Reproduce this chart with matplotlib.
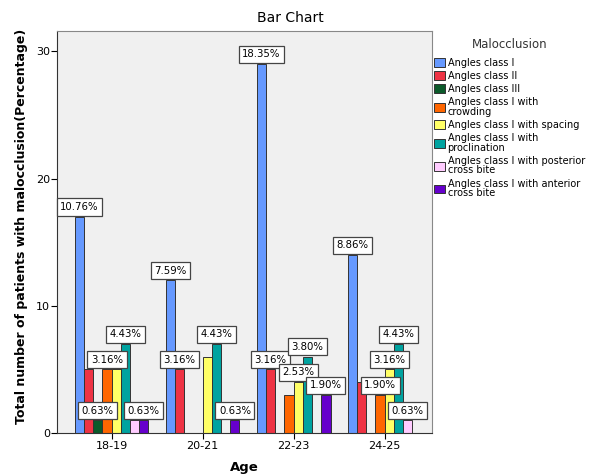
import numpy as np
import matplotlib; matplotlib.use('Agg')
import matplotlib.pyplot as plt
from matplotlib.patches import Patch

ages = ['18-19', '20-21', '22-23', '24-25']
series = [
    'Angles class I',
    'Angles class II',
    'Angles class III',
    'Angles class I with\ncrowding',
    'Angles class I with spacing',
    'Angles class I with\nproclination',
    'Angles class I with posterior\ncross bite',
    'Angles class I with anterior\ncross bite',
]
# counts per series, one value per age group
class_1 = [17, 12, 29, 14]
class_2 = [5, 5, 5, 4]
class_3 = [1, 0, 0, 0]
crowding = [5, 0, 3, 3]
spacing = [5, 6, 4, 5]
proclination = [7, 7, 6, 7]
posterior_cb = [1, 0, 0, 1]
anterior_cb = [1, 1, 3, 0]
total_patients = 158

# which (series, age) bars carry a percentage label
labelled = [
    (0, 0), (3, 0), (5, 0), (2, 0), (7, 0),
    (0, 1), (1, 1), (5, 1), (7, 1),
    (0, 2), (1, 2), (4, 2), (5, 2), (7, 2),
    (0, 3), (3, 3), (4, 3), (5, 3), (6, 3),
]

colors = ['#6699ff', '#ee3344', '#0b5a2a', '#ff6600', '#ffff66',
          '#00a3a0', '#ffccff', '#6600cc']

values = [class_1, class_2, class_3, crowding, spacing,
          proclination, posterior_cb, anterior_cb]

fig = plt.figure(figsize=(5.95, 4.76), dpi=100)
ax = fig.add_axes([57 / 595, 1 - 433 / 476, (432 - 57) / 595, (433 - 31) / 476])
ax.set_facecolor('#f0f0f0')

n = len(series)
group_w = 0.81
bar_w = group_w / n
x = np.arange(len(ages))

for i, vals in enumerate(values):
    xs = x - group_w / 2 + bar_w * (i + 0.5)
    vals = np.array(vals, float)
    keep = vals > 0
    ax.bar(xs[keep], vals[keep], width=bar_w, color=colors[i],
           edgecolor='#333333', linewidth=0.7, zorder=2)

for i, j in labelled:
    xc = j - group_w / 2 + bar_w * (i + 0.5)
    v = values[i][j]
    ax.annotate(f'{v / total_patients * 100:.2f}%', (xc, v),
                xytext=(0, 7), textcoords='offset points',
                ha='center', va='center', fontsize=7.3, zorder=4,
                bbox=dict(boxstyle='square,pad=0.35', fc='white',
                          ec='#444444', lw=0.9))

ax.set_xlim(-0.6, 3.52)
ax.set_ylim(0, 31.6)
ax.set_xticks(x)
ax.set_xticklabels(ages, fontsize=8)
ax.set_yticks([0, 10, 20, 30])
ax.tick_params(axis='y', labelsize=8, length=4, width=0.8, pad=1)
ax.tick_params(axis='x', length=4, width=0.8, pad=2)

for s in ('left', 'bottom'):
    ax.spines[s].set_color('#333333')
for s in ('top', 'right'):
    ax.spines[s].set_color('#888888')

fig.text(290 / 595, 1 - 18 / 476, 'Bar Chart', fontsize=10,
         ha='center', va='center')
ax.set_xlabel('Age', fontsize=9.5, fontweight='bold', labelpad=7)
ax.set_ylabel('Total number of patients with malocclusion(Percentage)',
              fontsize=9, fontweight='bold')
ax.yaxis.set_label_coords(-0.077, 0.515)

handles = [Patch(facecolor=c, edgecolor='#333333', linewidth=0.7) for c in colors]
leg = fig.legend(handles, series, loc='upper left',
                 bbox_to_anchor=(434 / 595, 1 - 38 / 476), frameon=False,
                 fontsize=7, title='Malocclusion', title_fontsize=8.5,
                 handlelength=1.1, handleheight=1.0, handletextpad=0.3,
                 labelspacing=0.32, borderaxespad=0, borderpad=0)
for t in leg.get_texts():
    t.set_linespacing(0.95)
leg.get_title().set_color('#333333')
leg._legend_box.sep = 5

fig.savefig('out.png', dpi=100)
plt.close(fig)
